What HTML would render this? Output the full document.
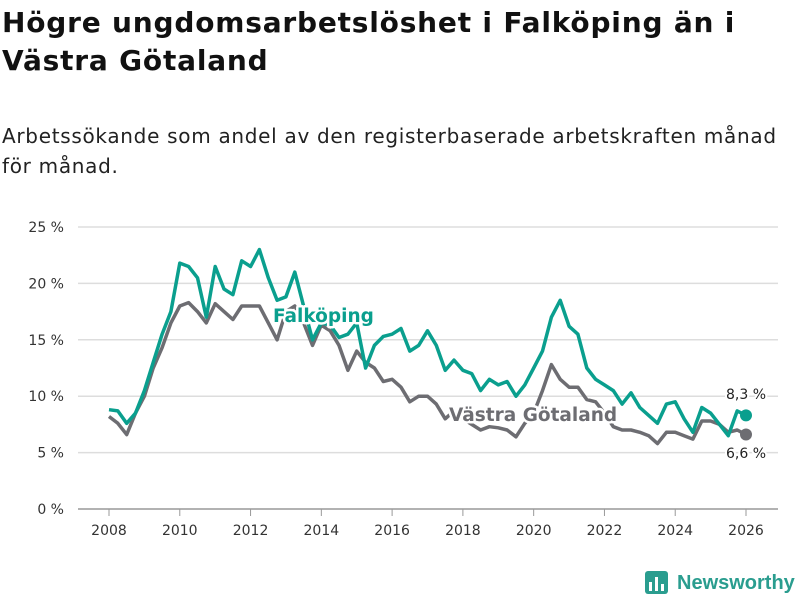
<!DOCTYPE html>
<html><head><meta charset="utf-8"><style>
body{margin:0;width:800px;height:600px;background:#fff;font-family:"DejaVu Sans",sans-serif;overflow:hidden}
h1{position:absolute;left:2px;top:4px;margin:0;font-size:28px;line-height:38px;font-weight:bold;color:#111;white-space:nowrap;letter-spacing:0.8px}
p{position:absolute;left:2px;top:121px;margin:0;font-size:20px;line-height:30px;color:#222;white-space:nowrap;letter-spacing:0.7px}
</style></head><body>
<h1>Högre ungdomsarbetslöshet i Falköping än i<br>Västra Götaland</h1>
<p>Arbetssökande som andel av den registerbaserade arbetskraften månad<br>för månad.</p>
<svg id="c" width="800" height="600" style="position:absolute;left:0;top:0"></svg>
<script>
const yTicks=[0,5,10,15,20,25];
const xTicks=[2008,2010,2012,2014,2016,2018,2020,2022,2024,2026];
const startYear=2008, step=0.25;
const falkoping=[8.8,8.7,7.6,8.5,10.5,13,15.5,17.5,21.8,21.5,20.5,17,21.5,19.5,19,22,21.5,23,20.5,18.5,18.8,21,18,15,16.5,16.3,15.2,15.5,16.5,12.5,14.5,15.3,15.5,16,14,14.5,15.8,14.5,12.3,13.2,12.3,12,10.5,11.5,11,11.3,10,11,12.5,14,17,18.5,16.2,15.5,12.5,11.5,11,10.5,9.3,10.3,9,8.3,7.6,9.3,9.5,8,6.8,9,8.5,7.5,6.5,8.7,8.3];
const gotaland=[8.2,7.6,6.6,8.5,10,12.5,14.3,16.5,18,18.3,17.5,16.5,18.2,17.5,16.8,18,18,18,16.5,15,17.5,18,16.5,14.5,16.3,15.8,14.5,12.3,14,13,12.5,11.3,11.5,10.8,9.5,10,10,9.3,8,8.7,8,7.5,7,7.3,7.2,7,6.4,7.6,8.5,10.5,12.8,11.5,10.8,10.8,9.7,9.5,8.5,7.3,7,7,6.8,6.5,5.8,6.8,6.8,6.5,6.2,7.8,7.8,7.5,6.8,7,6.6];
const svg=document.getElementById('c'),NS='http://www.w3.org/2000/svg';
const X=y=>109+(y-2008)*(746-109)/18, Y=v=>509-v*(509-227)/25;
function mk(t,a,p){const e=document.createElementNS(NS,t);for(const k in a)e.setAttribute(k,a[k]);(p||svg).appendChild(e);return e;}
yTicks.forEach(v=>{
 const l=mk('line',{x1:78,x2:778,y1:Y(v),y2:Y(v),stroke:v===0?'#999':'#ddd','stroke-width':1.5});
 
 
 const t=mk('text',{x:64,y:Y(v)+5,'text-anchor':'end','font-size':14,fill:'#333'});t.textContent=v+' %';
 
 
});
xTicks.forEach(y=>{
 const l=mk('line',{x1:X(y),x2:X(y),y1:509,y2:516,stroke:'#999'});
 
 
 const t=mk('text',{x:X(y),y:535,'text-anchor':'middle','font-size':14,fill:'#333'});t.textContent=y;
 
 
});
function line(arr,col,name){
 const d=arr.map((v,i)=>(i?'L':'M')+X(startYear+i*step).toFixed(1)+','+Y(v).toFixed(1)).join('');
 const p=mk('path',{d:d,fill:'none',stroke:col,'stroke-width':3.5,'stroke-linejoin':'round'});
 
 
 const n=arr.length-1;
 const c=mk('circle',{cx:X(startYear+n*step),cy:Y(arr[n]),r:6,fill:col});
 
 
}
line(gotaland,'#6d6d72','gotaland');
line(falkoping,'#0a9f8e','falkoping');
function lab(txt,x,y,col,name,anchor,bold){
 const a={x:x,y:y,'font-size':bold?18.5:14,'font-weight':bold?'bold':'normal',fill:col,'text-anchor':anchor,stroke:'#fff','stroke-width':bold?5:4,'paint-order':'stroke','stroke-linejoin':'round'};
 const t=mk('text',a);t.textContent=txt;
 
 
}
lab('Falköping',273,322,'#0a9f8e','falkoping-label','start',true);
lab('Västra Götaland',449,421,'#6d6d72','gotaland-label','start',true);
const nL=falkoping.length-1;
lab(falkoping[nL].toFixed(1).replace('.',',')+' %',746,399,'#222','falkoping-value-label','middle',false);
lab(gotaland[nL].toFixed(1).replace('.',',')+' %',746,458,'#222','gotaland-value-label','middle',false);
const g=mk('g',{});


mk('rect',{x:645,y:571,width:23,height:23,rx:3,fill:'#2a9d8f'},g);
mk('rect',{x:649,y:582,width:3,height:9,fill:'#fff'},g);
mk('rect',{x:655,y:577,width:3,height:14,fill:'#fff'},g);
mk('rect',{x:661,y:584,width:3,height:7,fill:'#fff'},g);
const lt=mk('text',{x:677,y:589,'font-size':20,'font-weight':'bold',fill:'#2a9d8f','font-family':'Liberation Sans, sans-serif'},g);lt.textContent='Newsworthy';
</script>
</body></html>
